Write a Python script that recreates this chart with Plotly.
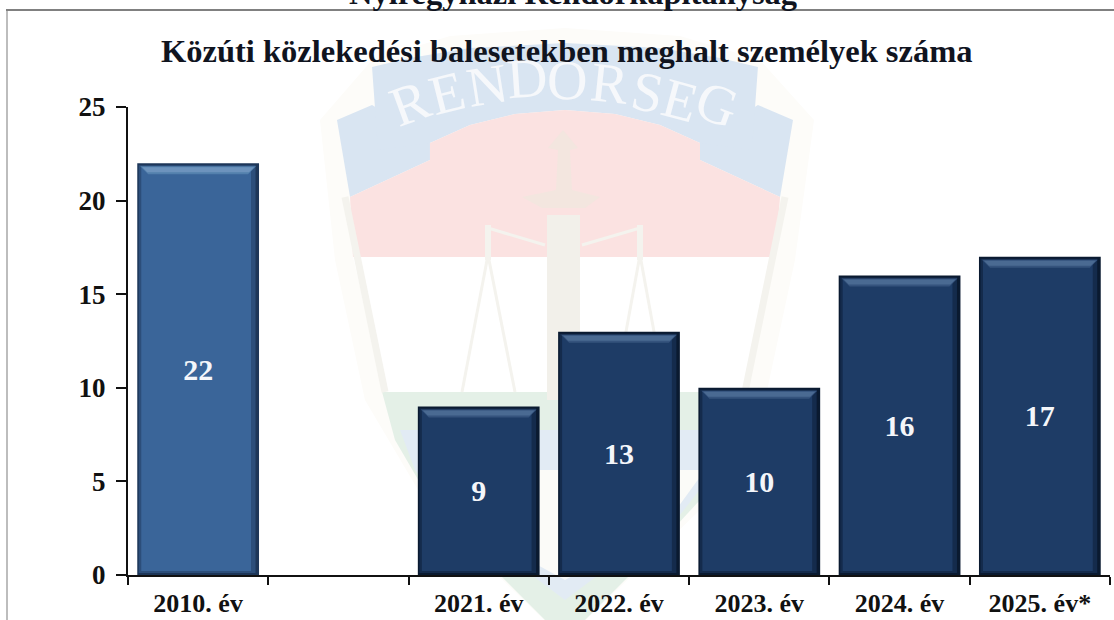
import plotly.graph_objects as go

categories = ["2010. év", " ", "2021. év", "2022. év", "2023. év", "2024. év", "2025. év*"]
values = [22, None, 9, 13, 10, 16, 17]
value_labels = ["22", "", "9", "13", "10", "16", "17"]
y_ticks = [0, 5, 10, 15, 20, 25]
title_text = "Közúti közlekedési balesetekben meghalt személyek száma"
heading_text = "Nyíregyházi Rendőrkapitányság"
watermark_letters = list("RENDORSEG")

W, H = 1114, 620
L, R, T, B = 128, 1110, 107, 575
SERIF = "Liberation Serif"
PXY = 25 / (B - T)
PXX = 7 / (R - L)

px = lambda x: (x - L) / (R - L)
py = lambda y: (B - y) / (B - T)

def poly(points, fill, line=None, width=0):
    d = "M" + " L".join(f"{px(x):.4f},{py(y):.4f}" for x, y in points) + " Z"
    return dict(type="path", path=d, xref="paper", yref="paper", fillcolor=fill,
                line=dict(color=line or fill, width=width), layer="below")

def stroke(x0, y0, x1, y1, width=4, color="#f4f3ee"):
    return dict(type="line", x0=px(x0), y0=py(y0), x1=px(x1), y1=py(y1), xref="paper",
                yref="paper", line=dict(color=color, width=width), layer="below")

BLUE = "#d9e5f2"
RED = "#fbe2e1"
GREEN = "#e4f0e7"
LBLUE = "#e2ebf4"

shapes = [
    # faint outer shield
    poly([(320, 120), (372, 60), (450, 36), (565, 28), (680, 36), (760, 60), (814, 120), (795, 260),
          (765, 400), (700, 510), (565, 640), (430, 510), (365, 400), (335, 260)], "#fdfcf9"),
    # white middle field
    poly([(353, 257), (775, 257), (745, 392), (385, 392)], "#ffffff"),
    # blue ribbon tails
    poly([(337, 120), (372, 105), (430, 140), (430, 160), (350, 197)], BLUE),
    poly([(793, 120), (758, 105), (700, 140), (700, 160), (780, 197)], BLUE),
    # blue banner
    poly([(372, 67), (410, 58), (470, 48), (565, 43), (660, 48), (720, 58), (758, 67),
          (752, 150), (700, 143), (660, 125), (615, 114), (565, 110), (515, 114), (470, 125), (430, 143), (378, 150)], BLUE),
    # red field
    poly([(350, 197), (430, 160), (430, 143), (470, 125), (515, 114), (565, 110), (615, 114), (660, 125),
          (700, 143), (700, 160), (780, 197), (775, 257), (353, 257)], RED),
    # bottom green + blue + white
    poly([(382, 392), (748, 392), (735, 440), (700, 500), (640, 565), (565, 640), (490, 565), (430, 500), (395, 440)], GREEN),
    poly([(400, 430), (730, 430), (715, 470), (680, 515), (625, 555), (565, 600), (505, 555), (450, 515), (415, 470)], LBLUE),
    poly([(425, 470), (705, 470), (665, 525), (565, 580), (465, 525)], "#fbfbf8"),
    # shield edges
    stroke(345, 197, 385, 392, 7), stroke(785, 197, 745, 392, 7),
    # sword
    poly([(547, 215), (580, 215), (580, 400), (547, 400)], "#f2f0ea"),
    poly([(563, 130), (578, 148), (570, 150), (572, 190), (600, 197), (585, 208), (542, 208), (522, 197),
          (556, 190), (558, 150), (548, 148)], "#f3e6df"),
    # scales
    stroke(488, 228, 545, 245, 3), stroke(640, 228, 582, 245, 3),
    stroke(488, 225, 488, 260, 6), stroke(640, 225, 640, 260, 6),
    stroke(488, 255, 462, 392, 3), stroke(488, 255, 515, 392, 3),
    stroke(640, 255, 615, 392, 3), stroke(640, 255, 665, 392, 3),
    # page frame
    dict(type="line", x0=px(7), x1=px(7), y0=py(10), y1=py(620), xref="paper", yref="paper",
         line=dict(color="#bdbdbd", width=2), layer="below"),
    dict(type="line", x0=px(6), x1=px(1114), y0=py(10), y1=py(10), xref="paper", yref="paper",
         line=dict(color="#808080", width=2), layer="below"),
]

# (edge, step, main, highlight, highlight soft)
palette = [("#1d3658", "#2c4e7a", "#3a6599", "#6d93bd", "#5380ad") if c.startswith("2010")
           else ("#0a1a30", "#142b4c", "#1e3c66", "#4a6a92", "#35537d") for c in categories]
present = [i for i, v in enumerate(values) if v is not None]
BW = 0.868

for i in present:
    v = values[i]
    hw = BW / 2
    # soft lower band, then brighter band, placed from the bar's own value
    for (d1, d2, s1, s2, col) in [(3, 11, 3, 11, palette[i][4]), (4, 9, 5, 10, palette[i][3])]:
        o1, o2 = hw - s1 * PXX, hw - s2 * PXX
        top1, top2 = v - d1 * PXY, v - d2 * PXY
        shapes.append(dict(type="path", xref="x", yref="y", layer="above",
                           path=f"M{i-o1},{top1} L{i+o1},{top1} L{i+o2},{top2} L{i-o2},{top2} Z",
                           fillcolor=col, line=dict(width=0)))

fig = go.Figure()
fig.add_bar(x=categories, y=values, width=BW, marker=dict(color=[p[0] for p in palette], line=dict(width=0)),
            hoverinfo="skip")
fig.add_bar(x=categories, y=[v - 4 * PXY if v else None for v in values], base=2 * PXY,
            width=BW - 5 * PXX, offset=-BW / 2 + 1.5 * PXX,
            marker=dict(color=[p[1] for p in palette], line=dict(width=0)), hoverinfo="skip")
fig.add_bar(x=categories, y=[v - 8 * PXY if v else None for v in values], base=4 * PXY,
            width=BW - 12 * PXX, offset=-BW / 2 + 4 * PXX,
            marker=dict(color=[p[2] for p in palette], line=dict(width=0)), hoverinfo="skip")
fig.add_bar(x=categories, y=values, width=BW, marker=dict(color="rgba(0,0,0,0)", line=dict(width=0)),
            text=value_labels, textposition="inside", insidetextanchor="middle", textangle=0,
            textfont=dict(family=SERIF, size=30, color="#f4f6fa", weight="bold"),
            hoverinfo="skip", constraintext="none")

annotations = [
    dict(text=f"<b>{title_text}</b>", x=px(566), y=py(51), xref="paper", yref="paper", showarrow=False,
         font=dict(family=SERIF, size=32.5, color="#10141f"), xanchor="center", yanchor="middle"),
    dict(text=f"<b>{heading_text}</b>", x=px(573), y=py(-7), xref="paper", yref="paper", showarrow=False,
         font=dict(family=SERIF, size=32.5, color="#10141f"), xanchor="center", yanchor="middle"),
]
letter_pos = [(410, 103, -20), (447, 93, -14), (487, 85, -9), (527, 78, -4), (567, 80, 1),
              (610, 83, 6), (647, 92, 11), (680, 100, 15), (717, 104, 20)]
for ch, (x, y, rot) in zip(watermark_letters, letter_pos):
    annotations.append(dict(text=ch, x=px(x), y=py(y), xref="paper", yref="paper", showarrow=False,
                            textangle=rot, font=dict(family=SERIF, size=56, color="#f6f8fb"),
                            xanchor="center", yanchor="middle"))

fig.update_layout(
    width=W, height=H, autosize=False, margin=dict(l=L, r=W - R, t=T, b=H - B, pad=0),
    paper_bgcolor="white", plot_bgcolor="rgba(0,0,0,0)", barmode="overlay", showlegend=False,
    shapes=shapes, annotations=annotations,
    xaxis=dict(type="category", categoryorder="array", categoryarray=categories, tickson="boundaries",
               ticks="outside", ticklen=8, tickwidth=2, tickcolor="#111", showline=True, linecolor="#111",
               linewidth=2, showgrid=False, zeroline=False, ticklabelstandoff=4, automargin=False,
               tickfont=dict(family=SERIF, size=26, color="#111", weight="bold")),
    yaxis=dict(range=[0, 25], tickvals=y_ticks, ticks="outside", ticklen=10, tickwidth=2, tickcolor="#111",
               showline=True, linecolor="#111", linewidth=2, showgrid=False, zeroline=False,
               ticklabelstandoff=5, automargin=False,
               tickfont=dict(family=SERIF, size=27, color="#111", weight="bold")),
)
fig.write_html("out.html", config=dict(displayModeBar=False),
               post_script="document.body.style.margin='0';document.documentElement.style.overflow='hidden';")
